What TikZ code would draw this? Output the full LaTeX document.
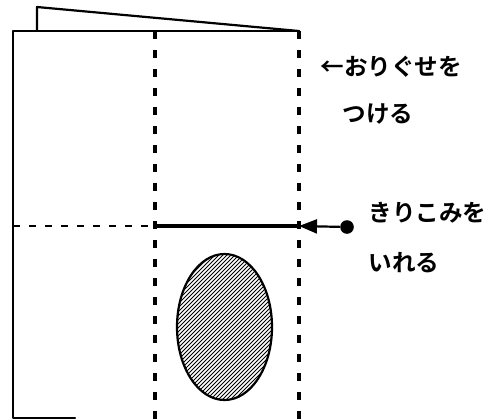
\documentclass[tikz,border=0pt]{standalone}
\usepackage{fontspec}
\newfontfamily\cjk{Noto Sans CJK JP Bold}
\usetikzlibrary{arrows.meta}
\begin{document}
\begin{tikzpicture}[x=0.5pt,y=-0.5pt,
  outline/.style={line width=1.1pt, line join=round, line cap=round},
  foldv/.style={line width=1.6pt, dash pattern=on 4pt off 5.5pt},
  foldh/.style={line width=1.1pt, dash pattern=on 3.5pt off 4.5pt},
  cutline/.style={line width=2.4pt},
  hatch/.style={line width=0.45pt},
  lbl/.style={anchor=west, font=\cjk\fontsize{11.8pt}{14pt}\selectfont, inner sep=0pt}]
\useasboundingbox (0,0) rectangle (497,419);
% key points
\coordinate (tl) at (13,31);
\coordinate (tr) at (299,31);
\coordinate (tm) at (155,31);
\coordinate (bl) at (13,418);
\coordinate (bb) at (75,418);
\coordinate (fl) at (37,31);
\coordinate (ft) at (37,7);
\coordinate (ml) at (13,226);
\coordinate (mm) at (155,226);
\coordinate (mr) at (299,226);
\coordinate (bm) at (155,419);
\coordinate (br) at (299,419);
% outline
\draw[outline] (bb) -- (bl) -- (tl) -- (tr);
\draw[outline] (fl) -- (ft) -- (tr);
% fold lines
\draw[foldv] (tm) -- (bm);
\draw[foldv] (tr) -- (br);
\draw[foldh] (ml) -- (mm);
% cut
\draw[cutline] (mm) -- (mr);
\node[circle, fill, inner sep=0pt, minimum size=6.8pt] (dot) at (347,227) {};
\draw[line width=1.1pt, -{Triangle[length=9pt,width=7pt]}] (dot) -- (mr);
% hatched ellipse
\begin{scope}
  \clip (224.5,327) ellipse [x radius=47.5, y radius=73];
  \foreach \c in {6,10,...,258} \draw[hatch] (\c,420) -- (\c+180,240);
\end{scope}
\draw[line width=1.1pt] (224.5,327) ellipse [x radius=47.5, y radius=73];
% labels
\node[lbl] (l1) at (320,67) {←おりぐせを};
\node[lbl] (l2) at (342,114) {つける};
\node[lbl] (l3) at (368,213) {きりこみを};
\node[lbl] (l4) at (368,263) {いれる};
\end{tikzpicture}
\end{document}
